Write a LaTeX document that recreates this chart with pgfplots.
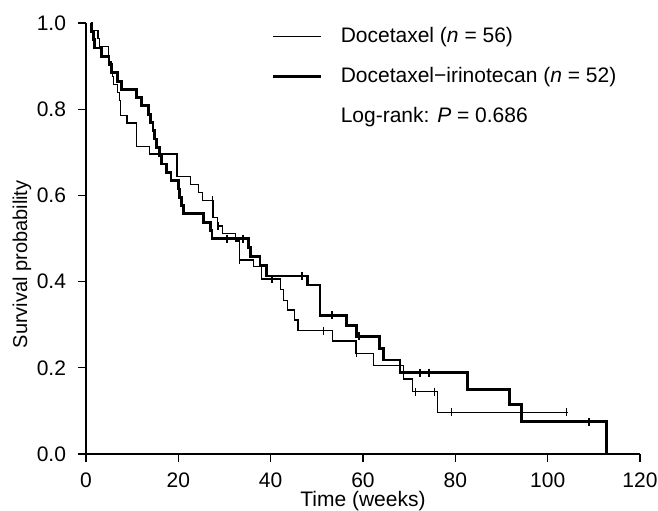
\documentclass[border=0pt]{standalone}
\usepackage{fontspec}
\setmainfont{Liberation Sans}
\usepackage{pgfplots}
\pgfplotsset{compat=1.18}

\begin{document}
\begin{tikzpicture}
\useasboundingbox (-43bp,-28.5bp) rectangle (286bp,227bp);
\begin{axis}[
    width=277bp, height=215.5bp, scale only axis,
    xmin=0, xmax=120, ymin=0, ymax=1,
    clip=false,
    axis x line*=bottom, axis y line*=left,
    axis line style={line width=0.6bp},
    tick align=outside, major tick length=4bp,
    tick style={line width=0.6bp, black},
    xtick={0,20,40,60,80,100,120},
    ytick={0,0.2,0.4,0.6,0.8,1},
    /pgf/number format/assume math mode=true,
    ticklabel style={font=\fontsize{10.5bp}{12bp}\selectfont},
    xticklabel style={yshift=-2bp},
    yticklabel style={xshift=-2.5bp,
        /pgf/number format/fixed, /pgf/number format/fixed zerofill,
        /pgf/number format/precision=1},
    xlabel={Time (weeks)},
    ylabel={Survival probability},
    xlabel style={at={(rel axis cs:0.5,0)}, anchor=base, yshift=-26.3bp,
        font=\fontsize{10.5bp}{12bp}\selectfont},
    ylabel style={at={([xshift=-32bp]rel axis cs:0,0.44)}, anchor=center,
        font=\fontsize{10bp}{12bp}\selectfont},
    legend style={draw=none, fill=none, at={(rel axis cs:0.335,1.0)}, anchor=north west,
        font=\fontsize{10.5bp}{12bp}\selectfont, row sep=7bp, inner sep=0pt,
        /tikz/every odd column/.append style={column sep=7bp}},
    legend cell align=left,
    legend image code/.code={\draw[#1] (0bp,0bp) -- (24bp,0bp);},
]

% Docetaxel
\addplot[const plot, black, line width=0.6bp] coordinates {
    (1.2,1.000) (1.3,0.982) (2.6,0.964) (2.9,0.946) (4.9,0.911) (5.4,0.893)
    (5.7,0.875) (5.9,0.857) (6.8,0.839) (7.2,0.821) (7.5,0.786) (8.9,0.768)
    (10.9,0.714) (13.7,0.696) (19.7,0.643) (22.6,0.625)
    (24.4,0.607) (25.2,0.589) (27.5,0.548) (28.5,0.529) (29.5,0.511)
    (32.4,0.494) (33.2,0.450) (36.3,0.435) (38.0,0.406) (42.2,0.382)
    (42.7,0.357) (43.6,0.334) (45.1,0.311) (45.9,0.286) (53.4,0.262)
    (58.5,0.234) (62.2,0.205) (68.7,0.174) (70.8,0.145) (76.1,0.097)
    (104.3,0.097)
};
\addlegendentry{Docetaxel (\textit{n} = 56)}

% Docetaxel-irinotecan
\addplot[const plot, black, line width=1.4bp] coordinates {
    (1.1,1.000) (1.2,0.981) (1.6,0.962) (1.9,0.942) (3.4,0.923) (5.0,0.904)
    (5.6,0.885) (6.8,0.865) (7.7,0.846) (11.0,0.827) (12.1,0.808)
    (13.5,0.788) (14.0,0.769) (14.5,0.750) (14.8,0.731) (15.3,0.712)
    (16.0,0.692) (16.4,0.673) (17.5,0.654) (18.4,0.635) (20.0,0.615)
    (20.3,0.596) (20.7,0.577) (21.1,0.558) (25.4,0.538) (26.9,0.519)
    (27.3,0.500) (35.2,0.480) (35.6,0.458) (37.7,0.437) (39.1,0.413)
    (47.9,0.392) (50.7,0.322) (56.5,0.298) (58.6,0.273) (63.6,0.245)
    (64.5,0.218) (68.0,0.189) (82.7,0.150) (91.8,0.114) (94.4,0.075)
    (112.7,0.000)
};
\addlegendentry{Docetaxel−irinotecan (\textit{n} = 52)}

\addlegendimage{empty legend}
\addlegendentry{Log-rank: \textit{P} = 0.686}

% censored observations
\addplot[only marks, mark=|, mark size=2bp, mark options={line width=0.6bp}, forget plot]
coordinates {
    (27.4,0.589) (28.6,0.529) (33.3,0.450) (40.3,0.406) (51.5,0.286)
    (58.6,0.234) (71.4,0.145) (75.5,0.145) (79.1,0.097) (104.1,0.097)
};
\addplot[only marks, mark=|, mark size=2bp, mark options={line width=0.8bp}, forget plot]
coordinates {
    (30.5,0.500) (34.0,0.500) (46.8,0.413) (53.3,0.322) (59.1,0.273)
    (72.3,0.189) (74.3,0.189) (109.0,0.075)
};

\end{axis}
\end{tikzpicture}
\end{document}
